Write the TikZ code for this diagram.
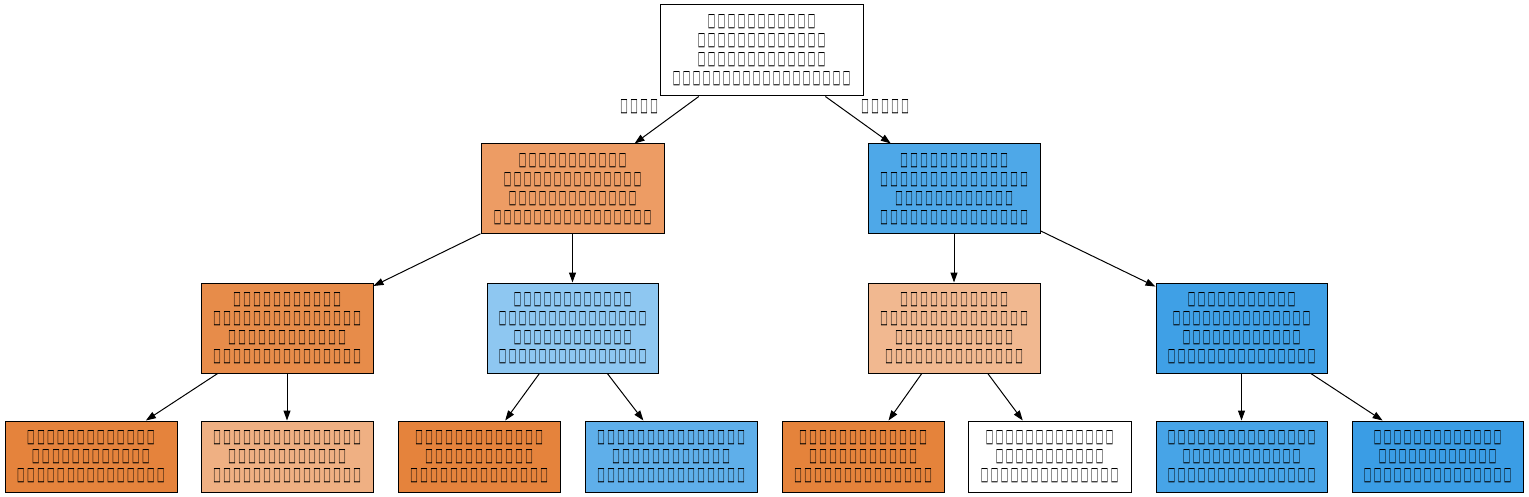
\documentclass[tikz,border=0pt]{standalone}
\usepackage{fontspec}
\newfontfamily\symf{DejaVu Sans}
\usetikzlibrary{arrows.meta}
\ExplSyntaxOn
\cs_new:Npn \tfrow #1 { \prg_replicate:nn {#1} { \tfglyph } }
\ExplSyntaxOff
\newcommand\tfglyph{\makebox[10pt]{\resizebox{7.5pt}{12pt}{\symf □}}}
\definecolor{cL}{HTML}{ED9C64}
\definecolor{cR}{HTML}{4EA8E8}
\definecolor{cA}{HTML}{E78C4A}
\definecolor{cB}{HTML}{8EC7F1}
\definecolor{cC}{HTML}{F1B890}
\definecolor{cD}{HTML}{3FA0E6}
\definecolor{cla}{HTML}{E5833C}
\definecolor{clb}{HTML}{EFB083}
\definecolor{clc}{HTML}{E5833C}
\definecolor{cld}{HTML}{5FAFEA}
\definecolor{cle}{HTML}{E5833B}
\definecolor{clg}{HTML}{47A4E7}
\definecolor{clh}{HTML}{3A9DE5}
\begin{document}
\begin{tikzpicture}[x=1pt,y=-1pt,
  tn/.style={draw, line width=1pt, inner sep=0pt, align=center,
    font=\fontsize{13}{19}\selectfont, minimum height=90pt},
  leaf/.style={tn, minimum height=71pt},
  edge/.style={-{Triangle[length=10pt,width=7pt]}, line width=1pt},
  elab/.style={inner sep=0pt, font=\fontsize{13}{19}\selectfont}]
\useasboundingbox (0,0) rectangle (1529,497);
\node[tn, minimum width=203pt, minimum height=91pt] (root) at (761.5,50.5)
  {\tfrow{11}\\\tfrow{13}\\\tfrow{13}\\\tfrow{18}};
\node[tn, fill=cL, minimum width=183pt] (L) at (572.5,189)
  {\tfrow{11}\\\tfrow{14}\\\tfrow{13}\\\tfrow{16}};
\node[tn, fill=cR, minimum width=172pt] (R) at (954,189)
  {\tfrow{11}\\\tfrow{15}\\\tfrow{12}\\\tfrow{15}};
\node[tn, fill=cA, minimum width=172pt] (A) at (287,328)
  {\tfrow{11}\\\tfrow{15}\\\tfrow{12}\\\tfrow{15}};
\node[tn, fill=cB, minimum width=171pt] (B) at (572.5,328)
  {\tfrow{12}\\\tfrow{15}\\\tfrow{12}\\\tfrow{15}};
\node[tn, fill=cC, minimum width=172pt] (C) at (954,328)
  {\tfrow{11}\\\tfrow{15}\\\tfrow{12}\\\tfrow{14}};
\node[tn, fill=cD, minimum width=171pt] (D) at (1241.5,328)
  {\tfrow{11}\\\tfrow{14}\\\tfrow{12}\\\tfrow{15}};
\node[leaf, fill=cla, minimum width=172pt] (l1) at (91,456.5)
  {\tfrow{13}\\\tfrow{12}\\\tfrow{15}};
\node[leaf, fill=clb, minimum width=172pt] (l2) at (287,456.5)
  {\tfrow{15}\\\tfrow{12}\\\tfrow{15}};
\node[leaf, fill=clc, minimum width=162pt] (l3) at (479,456.5)
  {\tfrow{13}\\\tfrow{11}\\\tfrow{14}};
\node[leaf, fill=cld, minimum width=172pt] (l4) at (671,456.5)
  {\tfrow{15}\\\tfrow{12}\\\tfrow{15}};
\node[leaf, fill=cle, minimum width=162pt] (l5) at (863,456.5)
  {\tfrow{13}\\\tfrow{11}\\\tfrow{14}};
\node[leaf, fill=white, minimum width=163pt] (l6) at (1049.5,456.5)
  {\tfrow{13}\\\tfrow{11}\\\tfrow{14}};
\node[leaf, fill=clg, minimum width=171pt] (l7) at (1241.5,456.5)
  {\tfrow{15}\\\tfrow{12}\\\tfrow{15}};
\node[leaf, fill=clh, minimum width=171pt] (l8) at (1437.5,456.5)
  {\tfrow{13}\\\tfrow{12}\\\tfrow{15}};
\draw[edge] (root) -- (L);
\draw[edge] (root) -- (R);
\draw[edge] (L) -- (A);
\draw[edge] (L) -- (B);
\draw[edge] (R) -- (C);
\draw[edge] (R) -- (D);
\draw[edge] (A) -- (l1);
\draw[edge] (A) -- (l2);
\draw[edge] (B) -- (l3);
\draw[edge] (B) -- (l4);
\draw[edge] (C) -- (l5);
\draw[edge] (C) -- (l6);
\draw[edge] (D) -- (l7);
\draw[edge] (D) -- (l8);
\node[elab] (tl) at (639,107) {\tfrow{4}};
\node[elab] (fl) at (885,107) {\tfrow{5}};
\end{tikzpicture}
\end{document}
